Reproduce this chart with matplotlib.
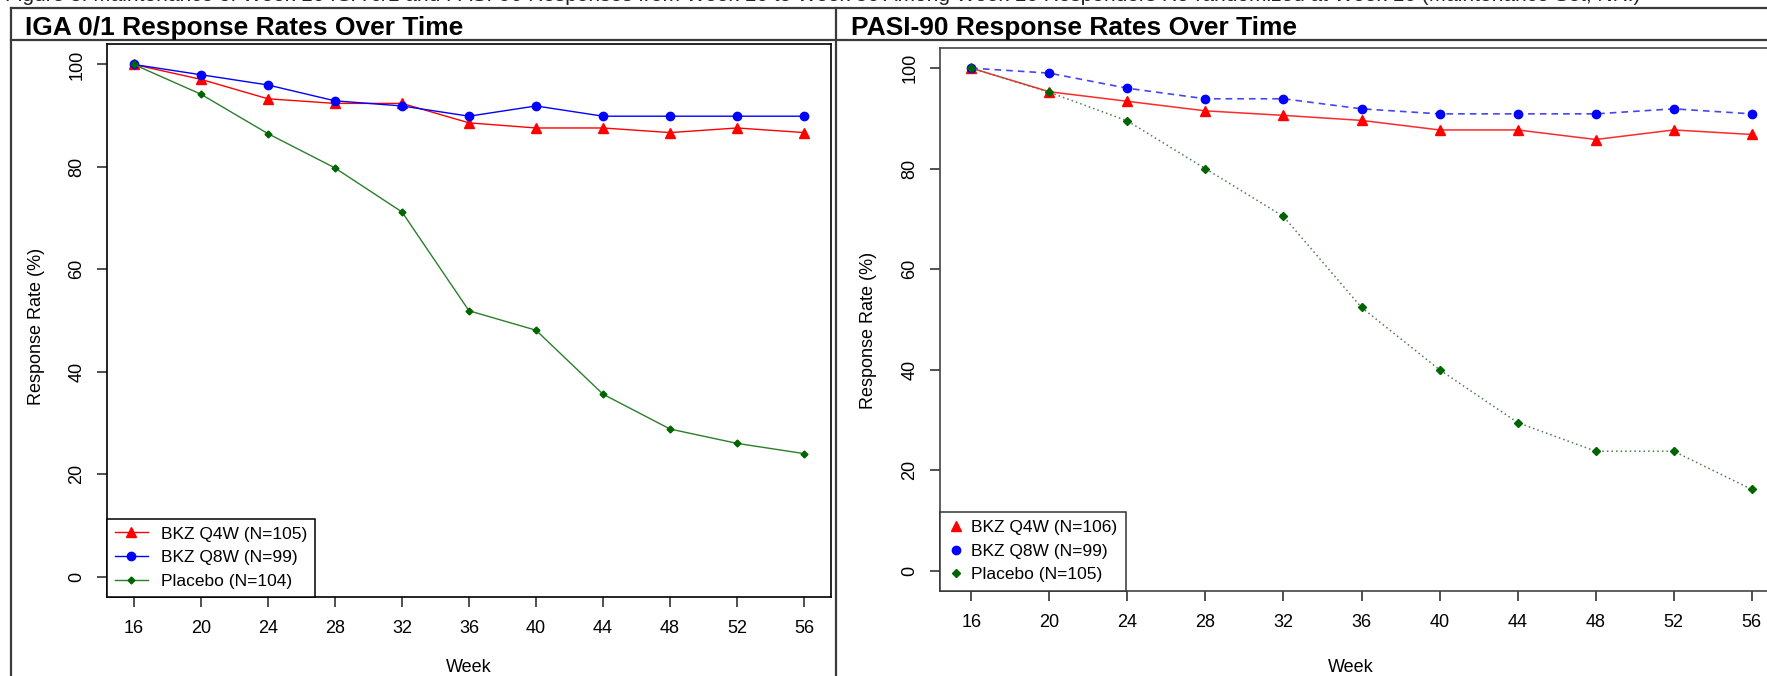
import matplotlib
matplotlib.use("Agg")
import matplotlib.pyplot as plt
from matplotlib.lines import Line2D

plt.rcParams['font.family'] = ['Liberation Sans', 'DejaVu Sans']

# data
weeks = [16, 20, 24, 28, 32, 36, 40, 44, 48, 52, 56]

iga_q4w = [100, 97.1, 93.3, 92.4, 92.4, 88.6, 87.6, 87.6, 86.7, 87.6, 86.7]
iga_q8w = [100, 98.0, 96.0, 92.9, 91.9, 89.9, 91.9, 89.9, 89.9, 89.9, 89.9]
iga_pbo = [100, 94.2, 86.5, 79.8, 71.2, 51.9, 48.1, 35.6, 28.8, 26.0, 24.0]

pasi_q4w = [100, 95.3, 93.4, 91.5, 90.6, 89.6, 87.7, 87.7, 85.8, 87.7, 86.8]
pasi_q8w = [100, 99.0, 96.0, 93.9, 93.9, 91.9, 90.9, 90.9, 90.9, 91.9, 90.9]
pasi_pbo = [100, 95.2, 89.5, 80.0, 70.5, 52.4, 40.0, 29.5, 23.8, 23.8, 16.2]

iga_labels = ['BKZ Q4W (N=105)', 'BKZ Q8W (N=99)', 'Placebo (N=104)']
pasi_labels = ['BKZ Q4W (N=106)', 'BKZ Q8W (N=99)', 'Placebo (N=105)']

caption = ("Figure 3: Maintenance of Week 16 IGA 0/1 and PASI-90 Responses from Week 16 to Week 56 "
           "Among Week 16 Responders Re-randomized at Week 16 (Maintenance Set, NRI)")

W, H = 1767, 676
fig = plt.figure(figsize=(W / 100, H / 100), dpi=100)


def fx(px):
    return px / W


def fy(py):
    return 1 - py / H


# table lines
tc = '#3a3a3a'
for xs, ys in [([11, 11], [8, H + 5]),
               ([11, W + 5], [8, 8]),
               ([11, W + 5], [40, 40]),
               ([836, 836], [8, H + 5])]:
    fig.add_artist(Line2D([fx(x) for x in xs], [fy(y) for y in ys],
                          transform=fig.transFigure, color=tc, lw=1.6))

# caption (cut off at top)
fig.text(fx(1640), fy(1), caption, ha='right', va='baseline', fontsize=15, color='#222222')

# headers
fig.text(fx(25), fy(35), 'IGA 0/1 Response Rates Over Time', fontsize=19,
         fontweight='bold', va='baseline')
fig.text(fx(851), fy(35), 'PASI-90 Response Rates Over Time', fontsize=19,
         fontweight='bold', va='baseline')


def style_axes(ax, spine_col):
    ax.set_xlim(14.4, 57.6)
    ax.set_ylim(-4, 104)
    ax.set_xticks(weeks)
    ax.set_yticks([0, 20, 40, 60, 80, 100])
    ax.tick_params(axis='both', length=7.5, width=1.1, labelsize=13, direction='out',
                   color='#222222')
    ax.tick_params(axis='x', pad=9)
    ax.tick_params(axis='y', pad=8, labelrotation=90)
    for lab in ax.get_yticklabels():
        lab.set_va('center')
    for s in ax.spines.values():
        s.set_linewidth(1.2)
        s.set_color(spine_col)


# left panel
ax1 = fig.add_axes([fx(107), fy(597), fx(831 - 107), (597 - 44) / H])
ax1.plot(weeks, iga_q4w, color='#ff0000', lw=1.0, marker='^', ms=7, label=iga_labels[0])
ax1.plot(weeks, iga_q8w, color='#0000ff', lw=1.0, marker='o', ms=6, label=iga_labels[1])
ax1.plot(weeks, iga_pbo, color='#2a7f2a', lw=1.0, marker='D', ms=3.5,
         mfc='#006400', mec='#006400', label=iga_labels[2])
style_axes(ax1, 'black')
ax1.set_xlabel('Week', fontsize=13)
ax1.xaxis.set_label_coords(0.5, (597 - 667) / 553, transform=ax1.transAxes)
ax1.set_ylabel('Response Rate (%)', fontsize=13)
ax1.yaxis.set_label_coords((37 - 107) / 724, 0.49)
ax1.xaxis.label.set_va('center')
ax1.yaxis.label.set_va('center')
leg1 = ax1.legend(loc='lower left', borderaxespad=0, fancybox=False, fontsize=12.5,
                  handlelength=1.9, handletextpad=0.75, labelspacing=0.5,
                  borderpad=0.45, edgecolor='black', framealpha=1)
leg1.get_frame().set_linewidth(1.1)

# right panel
ax2 = fig.add_axes([fx(940), fy(591), fx(1783 - 940), (591 - 48) / H])
ax2.plot(weeks, pasi_q4w, color='#ff2a2a', lw=1.1, marker='^', ms=7,
         mfc='#ff0000', mec='#ff0000')
ax2.plot(weeks, pasi_q8w, color='#4646f0', lw=1.2, ls=(0, (4, 3)), marker='o', ms=6,
         mfc='#0000ff', mec='#0000ff')
ax2.plot(weeks, pasi_pbo, color='#4a7f4a', lw=1.1, ls=(0, (1, 2)), marker='D', ms=4,
         mfc='#006400', mec='#006400')
style_axes(ax2, '#444444')
ax2.set_xlabel('Week', fontsize=13)
ax2.xaxis.set_label_coords(0.487, (591 - 667) / 543)
ax2.set_ylabel('Response Rate (%)', fontsize=13)
ax2.yaxis.set_label_coords((868 - 940) / 843, 0.48)
ax2.xaxis.label.set_va('center')
ax2.yaxis.label.set_va('center')
handles2 = [Line2D([], [], ls='none', marker='^', ms=7, color='#ff0000'),
            Line2D([], [], ls='none', marker='o', ms=6, color='#0000ff'),
            Line2D([], [], ls='none', marker='D', ms=4, color='#006400')]
leg2 = ax2.legend(handles2, pasi_labels, loc='lower left', borderaxespad=0,
                  fancybox=False, fontsize=12.5,
                  handlelength=0.8, handletextpad=0.5, labelspacing=0.48,
                  borderpad=0.5, edgecolor='#333333', framealpha=1)
leg2.get_frame().set_linewidth(1.1)

fig.savefig('out.png', dpi=100)
